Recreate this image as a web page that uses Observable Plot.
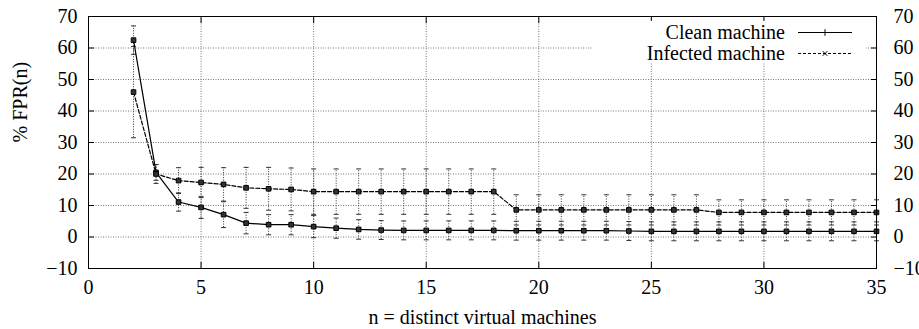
<!DOCTYPE html>
<html><head><meta charset="utf-8">
<script src="https://cdn.jsdelivr.net/npm/d3@7"></script>
<script src="https://cdn.jsdelivr.net/npm/@observablehq/plot@0.6"></script>
<style>
body{margin:0;background:#fff;}
#wrap{position:relative;width:919px;height:329px;font-family:"Liberation Serif","Times New Roman",Times,"DejaVu Serif",serif;}
#wrap svg text{font-family:"Liberation Serif","Times New Roman",Times,"DejaVu Serif",serif;}
#legend{position:absolute;left:592px;top:21px;width:274px;height:42px;background:#fff;font-family:"Liberation Serif","Times New Roman",Times,"DejaVu Serif",serif;font-size:20px;color:#000;}
.row{position:absolute;left:0;width:274px;height:20px;}
.row span{position:absolute;right:81px;top:0;line-height:20px;white-space:nowrap;}
.row svg{position:absolute;left:206px;top:0;}
</style></head>
<body><div id="wrap"></div>
<script>
const n = [2,3,4,5,6,7,8,9,10,11,12,13,14,15,16,17,18,19,20,21,22,23,24,25,26,27,28,29,30,31,32,33,34,35];
const clean = [62.5,20.5,11.1,9.4,7.1,4.4,3.9,3.9,3.3,2.8,2.4,2.2,2.1,2.1,2.1,2.1,2.1,2.0,2.0,2.0,2.0,2.0,1.9,1.8,1.8,1.8,1.8,1.8,1.8,1.8,1.8,1.8,1.8,1.8];
const cleanErr = [4.5,2.5,2.9,3.5,4.1,3.4,3.2,3.2,3.5,3.2,3.1,3,3,3,3,3,3,3,3,3,3,3,3,3,3,3,3,3,3,3,3,3,3,3];
const infected = [46,20,17.9,17.3,16.7,15.6,15.3,15.1,14.4,14.4,14.4,14.4,14.4,14.4,14.4,14.4,14.4,8.6,8.6,8.6,8.6,8.6,8.6,8.6,8.6,8.6,7.8,7.8,7.8,7.8,7.8,7.8,7.8,7.8];
const infectedErr = [14.5,3,4.1,4.8,5.3,6.5,6.8,6.8,7.2,7.2,7.2,7.2,7.2,7.2,7.2,7.2,7.2,4.8,4.8,4.8,4.8,4.8,4.8,4.8,4.8,4.8,4,4,4,4,4,4,4,4];
const xTicks = [0,5,10,15,20,25,30,35];
const yTicks = [-10,0,10,20,30,40,50,60,70];
const seriesNames = ["Clean machine","Infected machine"];
const xTitle = "n = distinct virtual machines";
const yTitle = "% FPR(n)";

const cleanRows = n.map((v,i)=>({n:v, y:clean[i], lo:clean[i]-cleanErr[i], hi:clean[i]+cleanErr[i]}));
const infRows = n.map((v,i)=>({n:v, y:infected[i], lo:infected[i]-infectedErr[i], hi:infected[i]+infectedErr[i]}));

const cap = {draw(ctx){ ctx.moveTo(-2.5,0); ctx.lineTo(2.5,0); }};

function errMarks(rows){
  return [
    Plot.ruleX(rows, {x:"n", y1:"lo", y2:"hi", stroke:"#333", strokeWidth:1, strokeDasharray:"1,1.5"}),
    Plot.dot(rows, {x:"n", y:"lo", symbol:cap, stroke:"#333", strokeWidth:1, fill:null}),
    Plot.dot(rows, {x:"n", y:"hi", symbol:cap, stroke:"#333", strokeWidth:1, fill:null})
  ];
}

const FONT = "'Liberation Serif', 'Times New Roman', Times, 'DejaVu Serif', serif";
const chart = Plot.plot({
  width:919, height:329,
  marginLeft:88, marginRight:43, marginTop:16, marginBottom:61,
  style:{fontFamily:FONT, fontSize:"20px", color:"#000", background:"#fff"},
  x:{domain:[0,35]},
  y:{domain:[-10,70]},
  marks:[
    Plot.gridX(xTicks, {stroke:"#777", strokeOpacity:1, strokeDasharray:"1,1.5"}),
    Plot.gridY(yTicks, {stroke:"#777", strokeOpacity:1, strokeDasharray:"1,1.5"}),
    ...errMarks(cleanRows),
    ...errMarks(infRows),
    Plot.line(cleanRows, {x:"n", y:"y", stroke:"#000", strokeWidth:1.2}),
    Plot.line(infRows, {x:"n", y:"y", stroke:"#000", strokeWidth:1.2, strokeDasharray:"4,2"}),
    Plot.dot(cleanRows, {x:"n", y:"y", symbol:"square", r:2.6, fill:"#333", stroke:"#000", strokeWidth:1}),
    Plot.dot(infRows, {x:"n", y:"y", symbol:"square", r:2.6, fill:"#333", stroke:"#000", strokeWidth:1}),
    Plot.frame({stroke:"#000", strokeWidth:1}),
    Plot.axisX(xTicks, {anchor:"bottom", tickSize:-6, tickPadding:17, label:null, fontSize:20, fontFamily:FONT}),
    Plot.axisX(xTicks, {anchor:"top", tickSize:-6, tickFormat:()=>"", label:null}),
    Plot.axisY(yTicks, {anchor:"left", tickSize:-6, tickPadding:17, label:null, fontSize:20, fontFamily:FONT}),
    Plot.axisY(yTicks, {anchor:"right", tickSize:-6, tickPadding:23, label:null, fontSize:20, fontFamily:FONT}),
    Plot.text([xTitle], {frameAnchor:"bottom", dy:55, fontSize:20, fontFamily:FONT}),
    Plot.text([yTitle], {frameAnchor:"left", dx:-68, rotate:-90, fontSize:20, fontFamily:FONT})
  ]
});
const wrap = document.getElementById("wrap");
wrap.appendChild(chart);

const legend = document.createElement("div");
legend.id = "legend";
const styles = [{dash:null, sym:"plus"},{dash:"3,2", sym:"times"}];
seriesNames.forEach((name,i)=>{
  const row = document.createElement("div");
  row.className = "row";
  row.style.top = (i===0 ? 1 : 22) + "px";
  const s = document.createElement("span");
  s.textContent = name;
  row.appendChild(s);
  const svg = d3.create("svg").attr("width",56).attr("height",20);
  svg.append("line").attr("x1",0).attr("x2",54).attr("y1",10.5).attr("y2",10.5).attr("stroke","#000").attr("stroke-width",1).attr("stroke-dasharray",styles[i].dash);
  const sym = d3.symbol(styles[i].sym==="plus"?d3.symbolPlus:d3.symbolX, 16)();
  svg.append("path").attr("d",sym).attr("transform","translate(27,10.5)").attr("fill","none").attr("stroke","#000").attr("stroke-width",1);
  row.appendChild(svg.node());
  legend.appendChild(row);
});
wrap.appendChild(legend);
</script>
</body></html>
